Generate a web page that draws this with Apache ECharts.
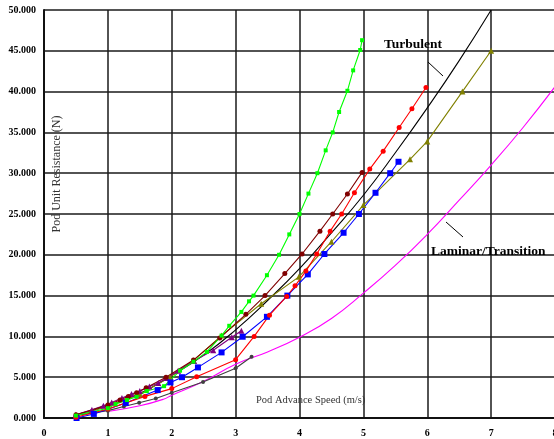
<!DOCTYPE html>
<html>
<head>
<meta charset="utf-8">
<script src="https://cdn.jsdelivr.net/npm/echarts@6/dist/echarts.min.js"></script>
<style>
html,body{margin:0;padding:0;background:#fff;}
#chart{width:554px;height:439px;}
</style>
</head>
<body>
<div id="chart"></div>
<script>
// Data: [speed m/s, resistance]
var xTicks = [0,1,2,3,4,5,6,7,8];
var yTicks = [0,5,10,15,20,25,30,35,40,45,50];

var greenSeries = [[0.5,0.3],[1.0,1.2],[1.12,1.7],[1.3,2.2],[1.45,2.6],[1.61,3.3],[1.88,3.9],[2.13,5.8],[2.34,6.9],[2.55,8.1],[2.78,10.1],[2.9,11.3],[3.09,13.0],[3.21,14.3],[3.28,15.0],[3.49,17.5],[3.68,20.0],[3.84,22.5],[4.0,25.0],[4.14,27.5],[4.28,30.0],[4.41,32.8],[4.52,35.0],[4.62,37.5],[4.75,40.1],[4.84,42.6],[4.95,45.1],[4.98,46.3]];
var maroonSeries = [[0.5,0.4],[1.0,1.6],[1.19,2.2],[1.32,2.65],[1.45,3.1],[1.6,3.7],[1.91,5.0],[2.34,7.1],[2.75,9.8],[3.16,12.7],[3.46,15.0],[3.77,17.7],[4.04,20.1],[4.32,22.9],[4.52,25.0],[4.75,27.45],[4.98,30.1]];
var redSeries = [[0.5,0.1],[1.0,1.1],[1.58,2.65],[2.0,3.6],[2.39,5.05],[3.0,7.15],[3.29,10.0],[3.53,12.6],[3.8,14.9],[3.93,16.2],[4.1,18.0],[4.27,20.1],[4.48,22.9],[4.66,25.0],[4.86,27.6],[5.10,30.5],[5.31,32.7],[5.56,35.6],[5.76,37.9],[5.98,40.5]];
var blueSeries = [[0.51,0.0],[0.78,0.5],[1.28,1.85],[1.78,3.42],[1.98,4.36],[2.16,5.0],[2.41,6.2],[2.78,8.04],[3.11,9.96],[3.49,12.4],[3.81,15.0],[4.13,17.6],[4.39,20.1],[4.69,22.7],[4.93,25.0],[5.19,27.6],[5.42,30.0],[5.55,31.4]];
var oliveSeries = [[0.5,0.3],[1.0,1.4],[1.5,2.9],[1.97,5.0],[2.34,7.06],[2.78,10.1],[3.4,14.0],[3.99,17.3],[4.5,21.6],[5.0,26.1],[5.73,31.7],[6.0,33.9],[6.55,40.0],[7.0,45.0]];
var purpleSeries = [[0.5,0.4],[0.75,1.0],[0.93,1.5],[1.06,1.9],[1.22,2.45],[1.37,2.94],[1.5,3.3],[1.65,3.87],[1.79,4.3],[1.92,4.9],[2.1,5.8],[2.35,7.0],[2.65,8.3],[2.94,9.9],[3.09,10.7]];
var greySeries = [[0.5,0.3],[1.0,0.9],[1.25,1.4],[1.49,1.87],[1.75,2.4],[2.0,3.1],[2.49,4.42],[3.0,6.1],[3.25,7.5]];
var turbulentSeries = [[0.5,0.4],[1.0,1.5],[1.5,3.0],[2.0,5.2],[2.5,7.7],[3.0,10.8],[3.5,14.4],[4.0,18.3],[4.5,22.7],[5.0,27.3],[5.5,32.5],[6.0,38.0],[6.5,43.8],[7.0,50.0]];
var laminarSeries = [[1.0,0.8],[1.5,1.5],[1.87,2.3],[2.0,2.8],[2.5,4.5],[3.0,6.6],[3.5,8.1],[4.0,9.9],[4.5,12.2],[5.0,15.3],[5.5,18.7],[6.0,22.5],[6.5,26.7],[7.0,31.0],[7.5,35.6],[8.0,40.6]];

var labelFont = '"Liberation Serif", "DejaVu Serif", serif';

function mk(name, data, color, symbol, size, smooth) {
  return {
    name: name, type: 'line', data: data, smooth: !!smooth,
    symbol: symbol || 'none', symbolSize: size || 0, showSymbol: !!symbol,
    lineStyle: {color: color, width: 1.1},
    itemStyle: {color: color},
    animation: false, z: 3
  };
}

var chart = echarts.init(document.getElementById('chart'), null, {renderer: 'canvas'});
chart.setOption({
  backgroundColor: '#ffffff',
  animation: false,
  grid: {left: 44, right: -1, top: 10, bottom: 21, show: false, containLabel: false, outerBoundsMode: 'none'},
  xAxis: {
    type: 'value', min: xTicks[0], max: xTicks[xTicks.length-1], interval: 1,
    axisLine: {show: true, lineStyle: {color: '#111', width: 2}},
    axisTick: {show: false},
    splitLine: {show: true, lineStyle: {color: '#1a1a1a', width: 1.5}},
    axisLabel: {fontFamily: labelFont, fontWeight: 'bold', fontSize: 10, color: '#000', margin: 10}
  },
  yAxis: {
    type: 'value', min: yTicks[0], max: yTicks[yTicks.length-1], interval: 5,
    axisLine: {show: true, lineStyle: {color: '#111', width: 2}},
    axisTick: {show: false},
    splitLine: {show: true, lineStyle: {color: '#1a1a1a', width: 1.5}},
    axisLabel: {fontFamily: labelFont, fontWeight: 'bold', fontSize: 10, color: '#000', margin: 8,
      formatter: function(v){ return v.toFixed(3); }}
  },
  series: [
    mk('Laminar/Transition', laminarSeries, '#ff00ff', null, 0, true),
    mk('Turbulent', turbulentSeries, '#000000', null, 0, true),
    mk('Grey', greySeries, '#404040', 'circle', 4),
    mk('Olive', oliveSeries, '#808000', 'triangle', 6),
    mk('Purple', purpleSeries, '#800080', 'triangle', 6),
    mk('Blue', blueSeries, '#0000ff', 'rect', 6),
    mk('Red', redSeries, '#ff0000', 'circle', 5),
    mk('Maroon', maroonSeries, '#800000', 'circle', 5),
    mk('Green', greenSeries, '#00ff00', 'rect', 4)
  ],
  graphic: [
    {type: 'text', x: 57, y: 174, rotation: Math.PI/2, z: 10,
      style: {text: 'Pod Unit Resistance (N)', font: '12px ' + labelFont, fill: '#333', align: 'center', verticalAlign: 'middle'}},
    {type: 'text', z: 10, x: 256, y: 395,
      style: {text: 'Pod Advance Speed (m/s)', font: '10.5px ' + labelFont, fill: '#333'}},
    {type: 'text', z: 10, x: 384, y: 38,
      style: {text: 'Turbulent', font: 'bold 13.5px ' + labelFont, fill: '#000', textShadowColor: '#999', textShadowOffsetX: 1, textShadowOffsetY: 1, textShadowBlur: 0}},
    {type: 'line', z: 10, shape: {x1: 428, y1: 62, x2: 443, y2: 76}, style: {stroke: '#000', lineWidth: 1}},
    {type: 'text', z: 10, x: 431, y: 245,
      style: {text: 'Laminar/Transition', font: 'bold 13.5px ' + labelFont, fill: '#000', textShadowColor: '#999', textShadowOffsetX: 1, textShadowOffsetY: 1, textShadowBlur: 0}},
    {type: 'line', z: 10, shape: {x1: 446, y1: 222, x2: 463, y2: 237}, style: {stroke: '#000', lineWidth: 1}}
  ]
});
</script>
</body>
</html>
